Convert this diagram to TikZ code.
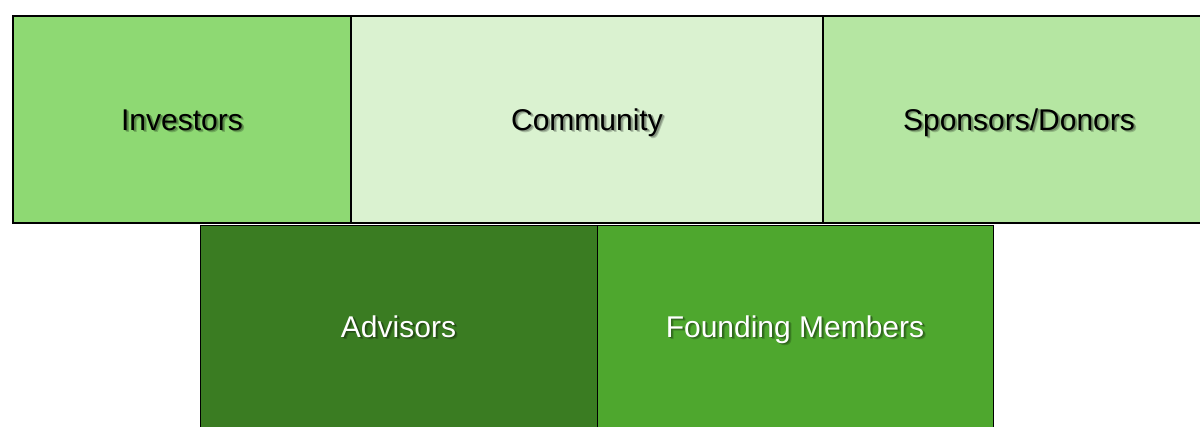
\documentclass[tikz,border=0pt]{standalone}
\usepackage{xcolor}
\usepackage{fontspec}
\setmainfont{Liberation Sans}
\usepackage{tikz}
\usetikzlibrary{positioning}
\definecolor{stakegreenpale}{HTML}{DAF2D0}
\definecolor{stakegreenlight}{HTML}{B5E6A2}
\definecolor{stakegreenmid}{HTML}{8ED973}
\definecolor{stakegreen}{HTML}{4EA72E}
\definecolor{stakegreendark}{HTML}{3A7C22}
% text with a soft drop shadow, tinted from the box fill
\newcommand{\shadowcopy}[3]{\makebox[0pt][l]{\hspace{#1}\raisebox{-#1}{\color{\boxfill!#2!black}#3}}}
\newcommand{\dropshadow}[1]{\shadowcopy{2.6pt}{80}{#1}\shadowcopy{1.7pt}{62}{#1}#1}

\begin{document}
\begin{tikzpicture}[
  x=1pt, y=-1pt,
  box/.style={fill=#1, execute at begin node={\def\boxfill{#1}}, inner sep=0pt, text height=21.5pt, text depth=0pt, font=\fontsize{30}{36}\selectfont},
  toprow/.style={box=#1, draw=black, line width=1.6pt, minimum height=207pt, text=black},
  botrow/.style={box=#1, draw=black, line width=0.9pt, minimum height=203pt, text=white}
]
\clip (0,0) rectangle (1200,426);
\fill[white] (0,0) rectangle (1200,426);

\node[toprow=stakegreenmid, minimum width=338pt] (investors) at (182,119.5) {\dropshadow{Investors}};
\node[toprow=stakegreenpale, minimum width=472pt] (community) at (587,119.5) {\dropshadow{Community}};
\node[toprow=stakegreenlight, minimum width=392pt] (sponsors) at (1019,119.5) {\dropshadow{Sponsors/Donors}};

\node[botrow=stakegreendark, minimum width=397pt] (advisors) at (398.5,326.5) {\dropshadow{Advisors}};
\node[botrow=stakegreen, minimum width=396pt] (founding) at (795,326.5) {\dropshadow{Founding Members}};
\end{tikzpicture}
\end{document}
